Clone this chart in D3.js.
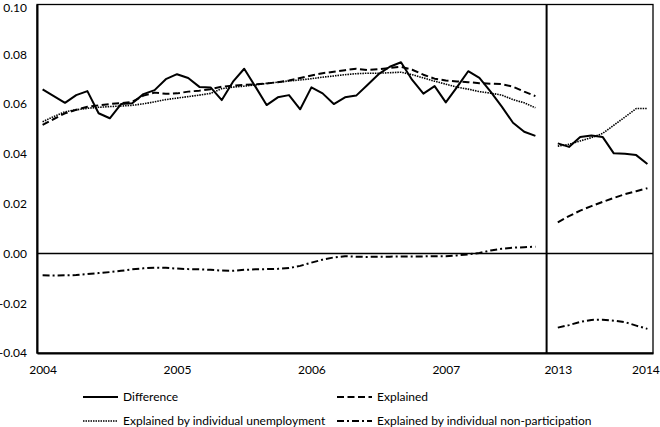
<!DOCTYPE html>
<html><head><meta charset="utf-8">
<script src="https://cdn.jsdelivr.net/npm/d3@7"></script>
<style>body{margin:0;background:#fff}svg{display:block}text{font-family:Lato,"Open Sans",sans-serif;font-size:12px;fill:#000}</style>
</head><body><svg id="c" width="660" height="427"></svg>
<script>
// categories: 45 months (Jan 2004 - Sep 2007), one empty slot, 9 points (2013-2014)
const nPanel1 = 45, nGap = 1, nPanel2 = 9;
const xTickLabels = [{i:0,t:"2004"},{i:12,t:"2005"},{i:24,t:"2006"},{i:36,t:"2007"},{i:46,t:"2013"},{i:54,t:"2014"}];
const yTicks = [0.10,0.08,0.06,0.04,0.02,0.00,-0.02,-0.04];

const difference1 = [0.0659,0.0632,0.0605,0.0636,0.0652,0.0563,0.0543,0.0600,0.0603,0.0640,
 0.0656,0.0700,0.0720,0.0705,0.0669,0.0667,0.0616,0.0690,0.0742,0.0670,
 0.0596,0.0627,0.0636,0.0579,0.0667,0.0643,0.0600,0.0627,0.0634,0.0677,
 0.0720,0.0750,0.0768,0.0697,0.0642,0.0672,0.0607,0.0668,0.0732,0.0705,
 0.0650,0.0590,0.0525,0.0489,0.0472];
const difference2 = [0.0442,0.0428,0.0468,0.0474,0.0468,0.0402,0.0400,0.0395,0.0359];

const explained1 = [0.0516,0.0540,0.0563,0.0577,0.0589,0.0595,0.0600,0.0604,0.0609,0.0634,
 0.0646,0.0641,0.0643,0.0650,0.0654,0.0660,0.0670,0.0674,0.0677,0.0679,
 0.0683,0.0688,0.0695,0.0705,0.0715,0.0724,0.0730,0.0736,0.0742,0.0737,
 0.0740,0.0745,0.0750,0.0738,0.0718,0.0702,0.0695,0.0691,0.0688,0.0684,
 0.0682,0.0680,0.0670,0.0650,0.0632];
const explained2 = [0.0125,0.0150,0.0172,0.0190,0.0207,0.0223,0.0238,0.0250,0.0262];

const unemp1 = [0.0529,0.0550,0.0569,0.0577,0.0583,0.0587,0.0590,0.0592,0.0595,0.0601,
 0.0609,0.0618,0.0624,0.0630,0.0636,0.0643,0.0662,0.0668,0.0672,0.0677,
 0.0683,0.0688,0.0693,0.0697,0.0702,0.0708,0.0713,0.0718,0.0722,0.0724,
 0.0724,0.0726,0.0728,0.0718,0.0705,0.0692,0.0680,0.0668,0.0660,0.0650,
 0.0644,0.0636,0.0618,0.0605,0.0585];
const unemp2 = [0.0431,0.0438,0.0452,0.0465,0.0482,0.0515,0.0548,0.0582,0.0582];

const nonpart1 = [-0.0088,-0.0089,-0.0088,-0.0087,-0.0083,-0.0079,-0.0075,-0.0070,-0.0064,-0.0060,
 -0.0057,-0.0058,-0.0061,-0.0063,-0.0064,-0.0066,-0.0069,-0.0070,-0.0066,-0.0064,
 -0.0063,-0.0062,-0.0059,-0.0050,-0.0037,-0.0025,-0.0016,-0.0011,-0.0013,-0.0014,
 -0.0013,-0.0013,-0.0012,-0.0012,-0.0012,-0.0011,-0.0011,-0.0008,-0.0004,0.0002,
 0.0012,0.0019,0.0023,0.0025,0.0027];
const nonpart2 = [-0.0298,-0.0288,-0.0275,-0.0267,-0.0266,-0.0270,-0.0276,-0.0290,-0.0303];

const seriesNames = ["Difference","Explained","Explained by individual unemployment","Explained by individual non-participation"];

const svg = d3.select("#c");
const L=37, R=653, T=4.5, B=353;
const nTot = nPanel1+nGap+nPanel2;
const x = d3.scalePoint().domain(d3.range(nTot)).range([L,R]).padding(0.5);
const y = d3.scaleLinear().domain([-0.04,0.10]).range([B,T]);

function full(a1,a2){ return a1.concat(new Array(nGap).fill(null), a2).map((v,i)=>({i,v})); }
const series = [
 {name:seriesNames[0], data:full(difference1,difference2), dash:null, w:2},
 {name:seriesNames[1], data:full(explained1,explained2), dash:"7,3.5", w:2},
 {name:seriesNames[2], data:full(unemp1,unemp2), dash:"1.5,1", w:1.6},
 {name:seriesNames[3], data:full(nonpart1,nonpart2), dash:"7,3,2,3", w:2}
];

// frame
svg.append("rect").attr("x",L).attr("y",T).attr("width",R-L).attr("height",B-T)
  .attr("fill","none").attr("stroke","#000").attr("stroke-width",1.3);
// zero line
svg.append("line").attr("x1",L).attr("x2",R).attr("y1",y(0)).attr("y2",y(0)).attr("stroke","#000").attr("stroke-width",1.5);
// divider at gap category
const xd = x(nPanel1);
svg.append("line").attr("x1",xd).attr("x2",xd).attr("y1",T).attr("y2",B).attr("stroke","#000").attr("stroke-width",2);

// axes
const yAxis = d3.axisLeft(y).tickValues(yTicks).tickSize(0).tickPadding(10).tickFormat(d3.format(".2f"));
const gy = svg.append("g").attr("transform",`translate(${L},0)`).call(yAxis);
gy.select(".domain").attr("stroke","#000").attr("stroke-width",2);
gy.selectAll("text").style("font-family","Lato, sans-serif").style("font-size","12px")
  .text(d=>d3.format(".2f")(d).replace("−","-"))
  .attr("dy", d=> d===0.10 ? "0.55em" : "0.32em");

const xAxis = d3.axisBottom(x).tickValues(xTickLabels.map(d=>d.i)).tickSize(0).tickPadding(12)
  .tickFormat(i=>xTickLabels.find(d=>d.i===i).t);
const gx = svg.append("g").attr("transform",`translate(0,${B})`).call(xAxis);
gx.select(".domain").attr("stroke","#000").attr("stroke-width",2);
gx.selectAll("text").style("font-family","Lato, sans-serif").style("font-size","12px")
  .attr("dx", i => i===nTot-1 ? -2 : 0);

// lines
const line = d3.line().defined(d=>d.v!==null).x(d=>x(d.i)).y(d=>y(d.v));
series.forEach(s=>{
  svg.append("path").datum(s.data).attr("d",line).attr("fill","none")
   .attr("stroke","#000").attr("stroke-width",s.w)
   .attr("stroke-dasharray",s.dash).attr("stroke-linejoin","round");
});

// legend
const legPos = [[83,397],[337,397],[83,421],[337,421]];
series.forEach((s,k)=>{
  const [lx,ly]=legPos[k];
  svg.append("line").attr("x1",lx).attr("x2",lx+35).attr("y1",ly).attr("y2",ly)
    .attr("stroke","#000").attr("stroke-width",s.w).attr("stroke-dasharray",s.dash);
  svg.append("text").attr("x",lx+40).attr("y",ly).attr("dy","0.35em").text(s.name);
});
</script></body></html>
